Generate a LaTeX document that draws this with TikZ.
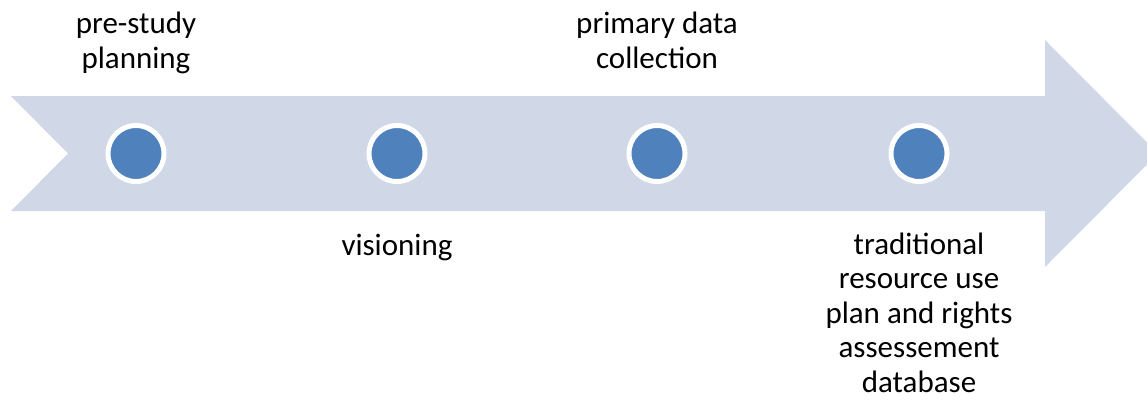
\documentclass[tikz,border=0pt]{standalone}
\usepackage{fontspec}
\setmainfont{Carlito}
\definecolor{arrowfill}{HTML}{D0D8E8}
\definecolor{dotblue}{HTML}{4F81BD}
\begin{document}
\begin{tikzpicture}[x=1pt,y=-1pt,
  dot/.style={circle,fill=dotblue,draw=white,line width=5pt,minimum size=56pt,inner sep=0pt},
  lbl/.style={align=center,font=\fontsize{31}{34.5}\selectfont,text=black,inner sep=0pt,anchor=base}]
\useasboundingbox (0,0) rectangle (1147,399);
\begin{scope}
\clip (0,0) rectangle (1147,399);
\fill[arrowfill] (11,96) -- (1045,96) -- (1045,40) -- (1158,153.5) -- (1045,267) -- (1045,211) -- (11,211) -- (68,153.5) -- cycle;
\end{scope}
\node[dot] (d1) at (136,153.5) {};
\node[dot] (d2) at (397,153.5) {};
\node[dot] (d3) at (657,153.5) {};
\node[dot] (d4) at (919,153.5) {};
\node[lbl] (t1) at (136,68) {pre-study\\planning};
\node[lbl] (t2) at (397,255) {visioning};
\node[lbl] (t3) at (657,68) {primary data\\collection};
\node[lbl] (t4) at (919,392) {traditional\\resource use\\plan and rights\\assessement\\database};
\end{tikzpicture}
\end{document}
